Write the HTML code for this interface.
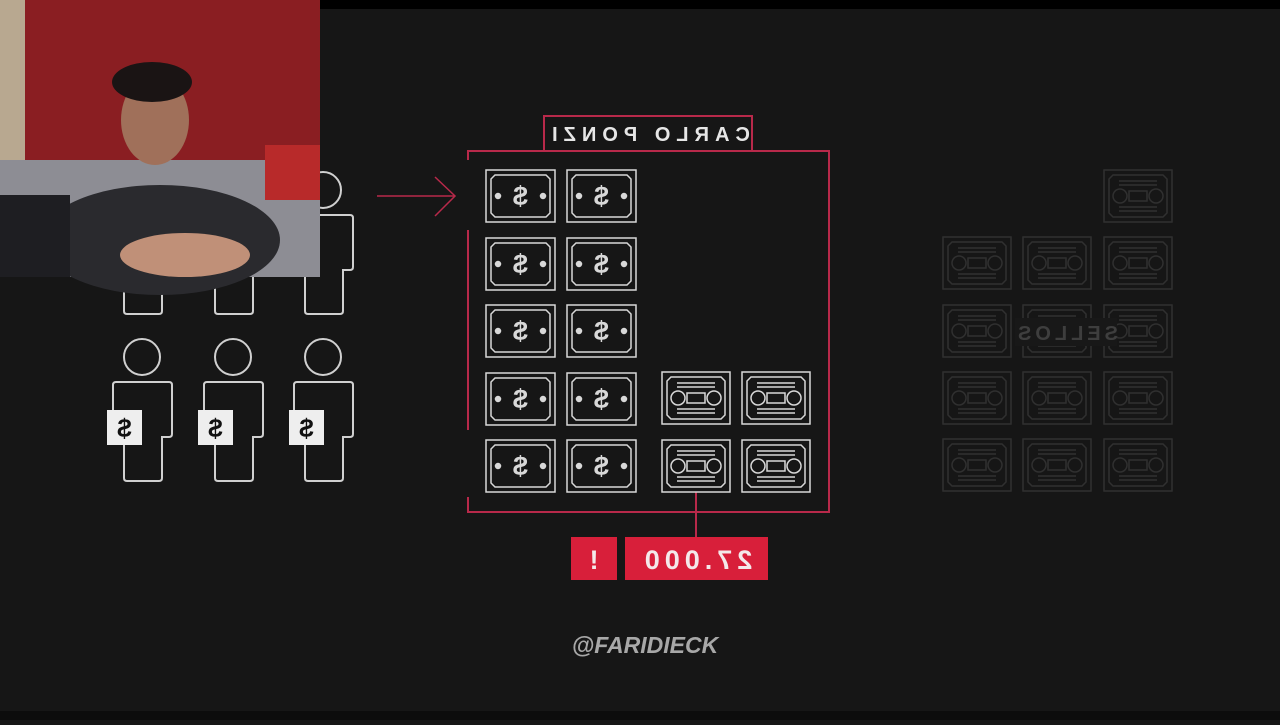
<!DOCTYPE html>
<html><head><meta charset="utf-8"><style>
body{margin:0;width:1280px;height:720px;background:#161616;overflow:hidden;font-family:"Liberation Sans",sans-serif}
</style></head><body>
<svg width="1280" height="720" viewBox="0 0 1280 720" xmlns="http://www.w3.org/2000/svg">
<defs>
<g id="bill" fill="none" stroke="#d8d8d8" stroke-width="1.5">
<rect x="0" y="0" width="69" height="52"/>
<path d="M9 5 H60 L64 9 V43 L60 47 H9 L5 43 V9 Z"/>
<circle cx="12" cy="26" r="2.5" fill="#d8d8d8"/><circle cx="57" cy="26" r="2.5" fill="#d8d8d8"/>
<text x="34.5" y="35" text-anchor="middle" font-size="27" font-weight="bold" fill="#d8d8d8" stroke="none" transform="translate(69,0) scale(-1,1)" font-family="Liberation Sans">$</text>
</g>
<g id="cas" fill="none" stroke-width="1.5">
<rect x="0" y="0" width="68" height="52"/>
<path d="M9 5 H59 L63 9 V43 L59 47 H9 L5 43 V9 Z"/>
<line x1="15" y1="11" x2="53" y2="11"/><line x1="15" y1="15" x2="53" y2="15"/>
<line x1="15" y1="37" x2="53" y2="37"/><line x1="15" y1="41" x2="53" y2="41"/>
<circle cx="16" cy="26" r="7"/><circle cx="52" cy="26" r="7"/>
<rect x="25" y="21" width="18" height="10"/>
</g>
<g id="person" fill="none" stroke="#d0d0d0" stroke-width="2">
<circle cx="0" cy="-25" r="18"/>
<path d="M-26 0 H27 Q30 0 30 3 V52 Q30 55 27 55 H20 V96 Q20 99 17 99 H-15 Q-18 99 -18 96 V55 H-26 Q-29 55 -29 52 V3 Q-29 0 -26 0 Z"/>
</g>
</defs>
<rect x="0" y="0" width="1280" height="9" fill="#000"/>
<rect x="0" y="711" width="1280" height="9" fill="#0c0c0c"/>

<use href="#person" x="142" y="382"/><use href="#person" x="233" y="382"/><use href="#person" x="323" y="382"/>
<use href="#person" x="142" y="215"/><use href="#person" x="233" y="215"/><use href="#person" x="323" y="215"/>
<g font-size="26" font-weight="bold" fill="#111">
<rect x="107" y="410" width="35" height="35" fill="#eee"/><text x="-124.5" y="437" text-anchor="middle" transform="scale(-1,1)">$</text>
<rect x="198" y="410" width="35" height="35" fill="#eee"/><text x="-215.5" y="437" text-anchor="middle" transform="scale(-1,1)">$</text>
<rect x="289" y="410" width="35" height="35" fill="#eee"/><text x="-306.5" y="437" text-anchor="middle" transform="scale(-1,1)">$</text>
</g>

<!-- webcam -->
<rect x="0" y="0" width="320" height="277" fill="#5a2426"/>
<rect x="0" y="0" width="320" height="160" fill="#8a1e22"/>
<rect x="0" y="0" width="25" height="170" fill="#b8a890"/>
<rect x="0" y="160" width="320" height="117" fill="#8d8d94"/>
<rect x="265" y="145" width="55" height="55" fill="#b82a2a"/>
<ellipse cx="160" cy="240" rx="120" ry="55" fill="#2a2a2e"/>
<rect x="0" y="195" width="70" height="82" fill="#1e1e22"/>
<ellipse cx="155" cy="120" rx="34" ry="45" fill="#a0705a"/>
<ellipse cx="152" cy="82" rx="40" ry="20" fill="#1a1414"/>
<ellipse cx="185" cy="255" rx="65" ry="22" fill="#c09078"/>

<g stroke="#b8294a" stroke-width="1.5" fill="none">
<line x1="377" y1="196" x2="455" y2="196"/><path d="M435 177 L455 196 L435 216"/>
</g>

<g stroke="#b8294a" stroke-width="2" fill="none">
<path d="M468 160 V151 H829 V512 H468 V497"/>
<line x1="468" y1="230" x2="468" y2="430"/>
<rect x="544" y="116" width="208" height="35"/>
<line x1="696" y1="492" x2="696" y2="537"/>
</g>
<text x="-648" y="141" text-anchor="middle" transform="scale(-1,1)" font-size="20" font-weight="bold" fill="#e6e6e6" letter-spacing="6">CARLO PONZI</text>

<g>
<use href="#bill" x="486" y="170"/><use href="#bill" x="567" y="170"/>
<use href="#bill" x="486" y="238"/><use href="#bill" x="567" y="238"/>
<use href="#bill" x="486" y="305"/><use href="#bill" x="567" y="305"/>
<use href="#bill" x="486" y="373"/><use href="#bill" x="567" y="373"/>
<use href="#bill" x="486" y="440"/><use href="#bill" x="567" y="440"/>
</g>
<g stroke="#d8d8d8">
<use href="#cas" x="662" y="372"/><use href="#cas" x="742" y="372"/>
<use href="#cas" x="662" y="440"/><use href="#cas" x="742" y="440"/>
</g>

<rect x="571" y="537" width="46" height="43" fill="#d81f3a"/>
<rect x="625" y="537" width="143" height="43" fill="#d81f3a"/>
<g fill="#f4e8ea" font-size="27" font-weight="bold" transform="scale(-1,1)">
<text x="-594" y="569" text-anchor="middle">!</text>
<text x="-696" y="569" text-anchor="middle" letter-spacing="5">27.000</text>
</g>

<g stroke="#303030">
<use href="#cas" x="1104" y="170"/>
<use href="#cas" x="943" y="237"/><use href="#cas" x="1023" y="237"/><use href="#cas" x="1104" y="237"/>
<use href="#cas" x="943" y="305"/><use href="#cas" x="1023" y="305"/><use href="#cas" x="1104" y="305"/>
<use href="#cas" x="943" y="372"/><use href="#cas" x="1023" y="372"/><use href="#cas" x="1104" y="372"/>
<use href="#cas" x="943" y="439"/><use href="#cas" x="1023" y="439"/><use href="#cas" x="1104" y="439"/>
</g>
<rect x="1015" y="318" width="102" height="28" fill="#181818"/>
<text x="-1066" y="340" text-anchor="middle" transform="scale(-1,1)" font-size="20" font-weight="bold" fill="#3e3e3e" letter-spacing="4">SELLOS</text>

<text x="645" y="653" text-anchor="middle" font-size="23" font-weight="bold" font-style="italic" fill="#a8a8a8">@FARIDIECK</text>
</svg>
</body></html>
